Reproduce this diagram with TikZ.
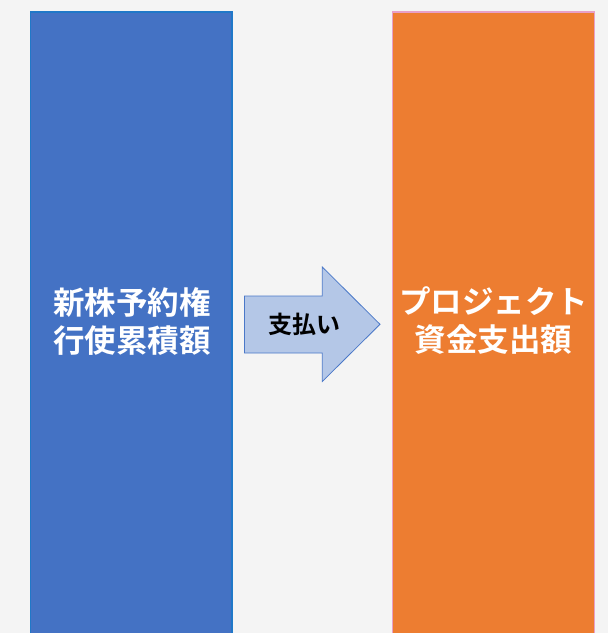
\documentclass[tikz,border=0pt]{standalone}
\usepackage{fontspec}
\newfontfamily\jpfont{Noto Sans CJK JP Bold}
\definecolor{bgc}{HTML}{F4F4F4}
\definecolor{bluefill}{HTML}{4472C4}
\definecolor{blueedge}{HTML}{2078C8}
\definecolor{orfill}{HTML}{ED7D31}
\definecolor{oredge}{HTML}{E8A0C8}
\definecolor{arrfill}{HTML}{B4C7E7}
\definecolor{arredge}{HTML}{4A78C8}
\tikzset{
  bigtext/.style={text=white, font=\jpfont\fontsize{31.5}{38}\selectfont, align=center, inner sep=0pt},
  arrtext/.style={text=black, font=\jpfont\fontsize{24}{28}\selectfont, inner sep=0pt},
}
\begin{document}
\begin{tikzpicture}[x=1pt,y=-1pt]
\fill[bgc] (0,0) rectangle (608,633);
\useasboundingbox (0,0) rectangle (608,633);
\draw[fill=bluefill, draw=blueedge, line width=1.5pt] (30.5,12) rectangle (232,640);
\draw[fill=orfill, draw=oredge, line width=1.8pt] (392.5,12) rectangle (594.5,640);
\draw[fill=arrfill, draw=arredge, line width=0.8pt]
  (244.5,296) -- (322.3,296) -- (322.3,267) -- (380,324.3) -- (322.3,381.5) -- (322.3,353) -- (244.5,353) -- cycle;
\node[bigtext] (left) at (132,322) {新株予約権\\行使累積額};
\node[bigtext] (right) at (493.5,321) {プロジェクト\\資金支出額};
\node[arrtext] (pay) at (304.5,324.5) {支払い};
\end{tikzpicture}
\end{document}
